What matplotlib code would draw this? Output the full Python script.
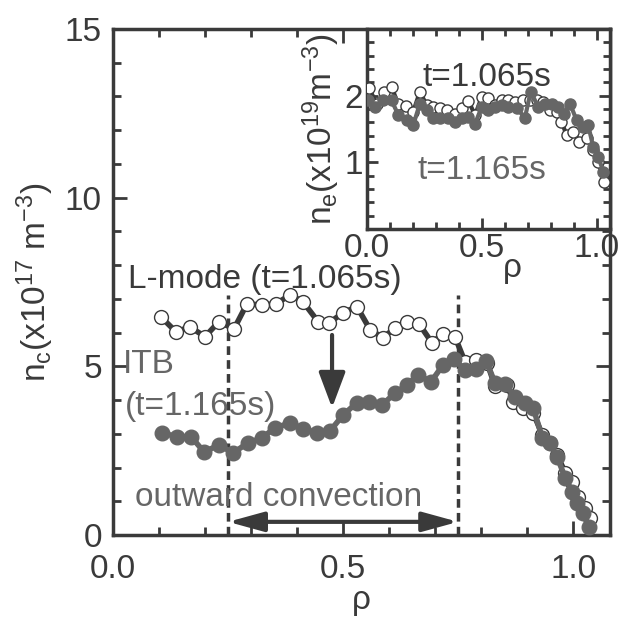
import matplotlib
matplotlib.use("Agg")
import matplotlib.pyplot as plt
from matplotlib.ticker import MultipleLocator

plt.rcParams['font.family'] = ['Liberation Sans', 'DejaVu Sans']
plt.rcParams['mathtext.default'] = 'regular'
plt.rcParams['font.size'] = 24

# main panel: n_c profiles
rho_l = [0.104, 0.137, 0.167, 0.200, 0.230, 0.263, 0.291, 0.324, 0.354, 0.385,
         0.413, 0.446, 0.470, 0.500, 0.530, 0.559, 0.587, 0.613, 0.639, 0.665,
         0.693, 0.717, 0.743, 0.765, 0.789, 0.813, 0.830, 0.857, 0.870, 0.891,
         0.913, 0.933, 0.950, 0.965, 0.983, 0.998, 1.011, 1.026, 1.037]
nc_l = [6.47, 6.02, 6.17, 5.88, 6.32, 6.11, 6.85, 6.82, 6.85, 7.12,
        6.91, 6.32, 6.29, 6.59, 6.77, 6.08, 5.85, 6.14, 6.32, 6.26,
        5.70, 5.96, 5.88, 5.13, 5.19, 5.10, 4.42, 4.45, 3.95, 3.77,
        3.62, 2.97, 2.73, 2.37, 1.84, 1.57, 1.13, 0.80, 0.50]

rho_itb = [0.107, 0.139, 0.170, 0.198, 0.230, 0.261, 0.293, 0.324, 0.352, 0.385,
           0.413, 0.443, 0.472, 0.500, 0.530, 0.557, 0.585, 0.613, 0.639, 0.663,
           0.691, 0.717, 0.741, 0.765, 0.789, 0.811, 0.830, 0.852, 0.874, 0.896,
           0.913, 0.933, 0.950, 0.965, 0.983, 0.998, 1.009, 1.022, 1.035]
nc_itb = [3.03, 2.91, 2.91, 2.46, 2.67, 2.43, 2.73, 2.88, 3.18, 3.32,
          3.15, 3.03, 3.09, 3.56, 3.92, 3.95, 3.86, 4.21, 4.45, 4.75,
          4.54, 5.04, 5.22, 4.90, 4.93, 5.16, 4.51, 4.48, 4.09, 3.92,
          3.77, 2.88, 2.73, 2.31, 1.69, 1.28, 0.95, 0.65, 0.24]

# inset: n_e profiles
rho_e1 = [0.010, 0.042, 0.074, 0.107, 0.136, 0.170, 0.201, 0.230, 0.259, 0.288,
          0.317, 0.349, 0.383, 0.412, 0.441, 0.470, 0.499, 0.528, 0.557, 0.586,
          0.614, 0.643, 0.677, 0.709, 0.738, 0.767, 0.796, 0.825, 0.846, 0.868,
          0.897, 0.923, 0.955, 0.984, 1.006, 1.030]
ne_e1 = [2.11, 1.87, 2.06, 2.13, 1.87, 1.84, 1.76, 2.06, 1.86, 1.83,
         1.82, 1.78, 1.73, 1.81, 1.92, 1.71, 1.98, 1.96, 1.86, 1.93,
         1.93, 1.91, 1.93, 1.93, 1.93, 1.91, 1.78, 1.76, 1.61, 1.41,
         1.46, 1.31, 1.37, 1.18, 1.01, 0.71]

rho_e2 = [0.006, 0.035, 0.071, 0.107, 0.136, 0.172, 0.201, 0.230, 0.259, 0.288,
          0.317, 0.354, 0.383, 0.412, 0.441, 0.470, 0.499, 0.528, 0.557, 0.586,
          0.614, 0.651, 0.687, 0.712, 0.745, 0.774, 0.803, 0.832, 0.857, 0.883,
          0.912, 0.941, 0.962, 0.984, 1.006, 1.028]
ne_e2 = [1.93, 1.83, 1.93, 1.93, 1.71, 1.63, 1.56, 1.88, 1.78, 1.66,
         1.66, 1.66, 1.61, 1.66, 1.68, 1.58, 1.83, 1.78, 1.83, 1.86,
         1.83, 1.81, 1.67, 2.06, 1.83, 1.88, 1.88, 1.83, 1.73, 1.88,
         1.63, 1.53, 1.56, 1.23, 1.08, 0.86]

dark = '#3a3a3a'
gray = '#666666'

fig = plt.figure(figsize=(6.32, 6.25), dpi=100)
ax = fig.add_axes([0.1788, 0.144, 0.7864, 0.8096])

ax.plot(rho_l, nc_l, '-o', color=dark, lw=4, mfc='white', mec=dark, mew=1, ms=10, zorder=3)
ax.plot(rho_itb, nc_itb, '-o', color=gray, lw=4, mfc=gray, mec=gray, ms=10.5, zorder=4)

# ITB foot markers
for xv in [0.25, 0.75]:
    ax.plot([xv, xv], [0, 7.1], ls=(0, (2.5, 1.5)), color=dark, lw=2.5, zorder=2)

ax.annotate('', xy=(0.476, 3.77), xytext=(0.476, 5.93),
            arrowprops=dict(arrowstyle='-|>,head_length=0.4,head_width=0.15', color=dark,
                            lw=3, mutation_scale=54, shrinkA=0, shrinkB=0))
ax.annotate('', xy=(0.25, 0.39), xytext=(0.75, 0.39),
            arrowprops=dict(arrowstyle='<|-|>,head_length=0.4,head_width=0.11', color=dark,
                            lw=3, mutation_scale=54, shrinkA=0, shrinkB=0))

ax.text(0.033, 7.58, 'L-mode (t=1.065s)', color=dark, va='center', ha='left')
ax.text(0.022, 5.05, 'ITB', color=gray, va='center', ha='left')
ax.text(0.026, 3.8, '(t=1.165s)', color=gray, va='center', ha='left')
ax.text(0.048, 1.1, 'outward convection', color=gray, va='center', ha='left')

ax.set_xlim(0, 1.08)
ax.set_ylim(0, 15)
ax.xaxis.set_major_locator(MultipleLocator(0.5))
ax.xaxis.set_minor_locator(MultipleLocator(0.1))
ax.yaxis.set_major_locator(MultipleLocator(5))
ax.yaxis.set_minor_locator(MultipleLocator(1))
ax.xaxis.set_major_formatter(plt.FormatStrFormatter('%.1f'))
ax.tick_params(which='both', direction='in', top=True, right=True, width=2, colors=dark)
ax.tick_params(which='major', length=10, pad=8)
ax.tick_params(axis='x', which='major', pad=14)
ax.tick_params(which='minor', length=6)
for s in ax.spines.values():
    s.set_linewidth(2.5)
    s.set_color(dark)
ax.set_xlabel('ρ', color=dark, labelpad=0)
ax.set_ylabel('n$_c$(x10$^{17}$ m$^{-3}$)', color=dark, labelpad=6)

# inset
ins = fig.add_axes([0.5807, 0.6336, 0.3845, 0.32])
ins.plot(rho_e1, ne_e1, '-o', color=dark, lw=3, mfc='white', mec=dark, mew=1, ms=8, zorder=3)
ins.plot(rho_e2, ne_e2, '-o', color=gray, lw=3, mfc=gray, mec=gray, ms=8, zorder=4)
ins.text(0.24, 2.28, 't=1.065s', color=dark, va='center', ha='left')
ins.text(0.22, 0.88, 't=1.165s', color=gray, va='center', ha='left')
ins.set_xlim(0, 1.057)
ins.set_ylim(0, 3)
ins.set_yticks([1, 2])
ins.xaxis.set_major_locator(MultipleLocator(0.5))
ins.xaxis.set_minor_locator(MultipleLocator(0.1))
ins.yaxis.set_minor_locator(MultipleLocator(0.2))
ins.xaxis.set_major_formatter(plt.FormatStrFormatter('%.1f'))
ins.tick_params(which='both', direction='in', top=True, right=True, width=2, colors=dark)
ins.tick_params(which='major', length=8, pad=3)
ins.tick_params(which='minor', length=5)
for s in ins.spines.values():
    s.set_linewidth(2.5)
    s.set_color(dark)
ins.set_ylabel('n$_e$(x10$^{19}$m$^{-3}$)', color=dark, labelpad=2)
ins.text(0.60, -0.12, 'ρ', transform=ins.transAxes, color=dark, ha='center', va='top')

fig.savefig('out.png', dpi=100)
